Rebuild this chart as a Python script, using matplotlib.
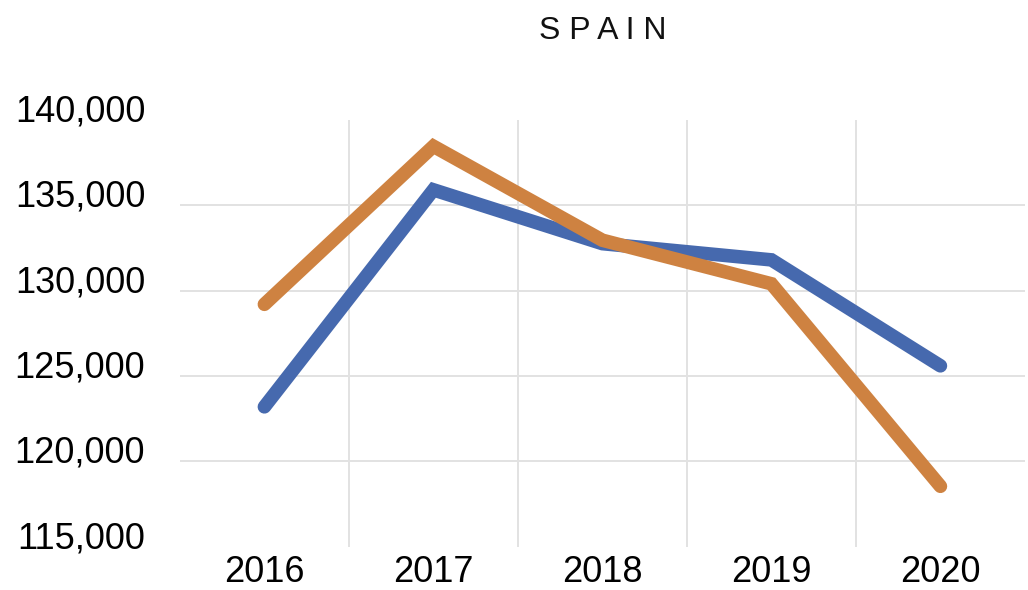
import matplotlib.pyplot as plt
import matplotlib.transforms as mtransforms
from matplotlib.ticker import FuncFormatter, FixedLocator

years = ["2016", "2017", "2018", "2019", "2020"]
series_blue = [123200, 135900, 132750, 131800, 125600]
series_orange = [129200, 138450, 132950, 130400, 118550]
y_ticks = [115000, 120000, 125000, 130000, 135000, 140000]

plt.rcParams['font.family'] = ['Liberation Sans', 'DejaVu Sans']

fig = plt.figure(figsize=(10.28, 5.9), dpi=100)
ax = fig.add_axes([0.175, 0.073, 0.822, 0.724])

x = list(range(len(years)))
ax.plot(x, series_blue, color="#4669AE", linewidth=9.8, solid_capstyle="round", solid_joinstyle="miter", zorder=3)
ax.plot(x, series_orange, color="#CE8241", linewidth=9.8, solid_capstyle="round", solid_joinstyle="miter", zorder=4)

ax.set_xlim(-0.5, len(years) - 0.5)
ax.set_ylim(115000, 140000)
ax.set_xticks(x)
ax.set_xticklabels(years)
ax.set_yticks(y_ticks)
ax.yaxis.set_major_formatter(FuncFormatter(lambda v, p: f"{int(v):,}"))
ax.xaxis.set_minor_locator(FixedLocator([0.5, 1.5, 2.5, 3.5]))

ax.grid(axis="y", which="major", color="#E2E2E2", linewidth=1.4)
ax.grid(axis="x", which="minor", color="#E2E2E2", linewidth=1.4)
ax.set_axisbelow(True)
gl = ax.yaxis.get_gridlines()
gl[0].set_visible(False)
gl[-1].set_visible(False)

for s in ax.spines.values():
    s.set_visible(False)
ax.tick_params(axis="both", which="both", length=0, labelsize=26)
ax.tick_params(axis="y", pad=25)
ax.tick_params(axis="x", pad=6)

offset = mtransforms.ScaledTranslation(0, 0.12, fig.dpi_scale_trans)
for lab in ax.get_yticklabels():
    lab.set_transform(lab.get_transform() + offset)

ax.set_title("S P A I N", fontsize=23, pad=58, color="#111111")

fig.savefig("out.png", dpi=100)
